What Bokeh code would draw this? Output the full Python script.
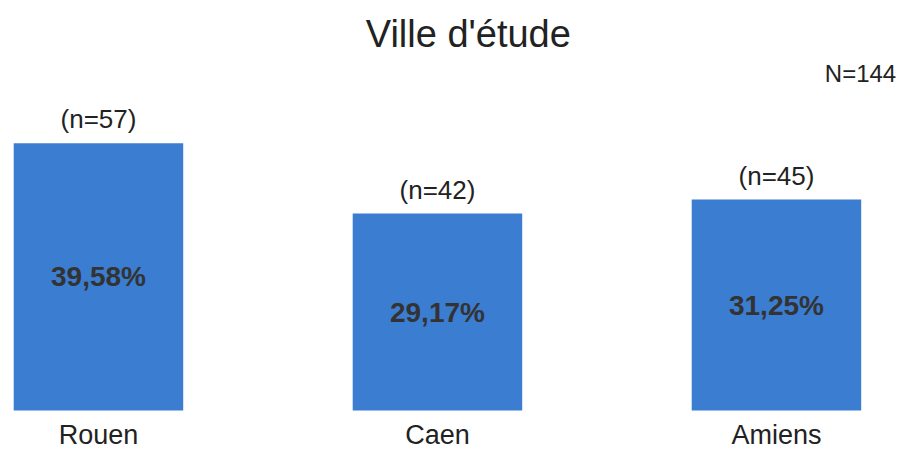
from bokeh.plotting import figure
from bokeh.models import Range1d, ColumnDataSource
from bokeh.core.properties import value
from bokeh.embed import file_html
from bokeh.resources import INLINE

# ---- data ----
chart_title = "Ville d'étude"
total_label = "N=144"
cities = ["Rouen", "Caen", "Amiens"]
percents = [39.58, 29.17, 31.25]
counts = [57, 42, 45]
pct_labels = ["39,58%", "29,17%", "31,25%"]
n_labels = ["(n=57)", "(n=42)", "(n=45)"]

# ---- layout ----
W, H = 899, 450
FONT = "Liberation Sans"
BAR_COLOR = "#3b7dd0"

xs = list(range(len(cities)))
src = ColumnDataSource(dict(
    x=xs,
    top=percents,
    mid=[v / 2 for v in percents],
    city=cities,
    pct=pct_labels,
    n=n_labels,
    base=[-3.556] * len(cities),
))

p = figure(width=W, height=H, output_backend="svg", toolbar_location=None,
           x_range=Range1d(-0.289, 2.363), y_range=Range1d(-5.926, 60.74),
           x_axis_location=None, y_axis_location=None,
           min_border=0, outline_line_color=None)
p.xgrid.visible = False
p.ygrid.visible = False
p.background_fill_color = "white"
p.border_fill_color = "white"

p.vbar(x="x", top="top", bottom=0, width=0.5, source=src,
       fill_color=BAR_COLOR, line_color=None)

p.text(x="x", y="mid", text="pct", source=src, text_align="center",
       text_baseline="middle", text_font=value(FONT), text_font_size="28px",
       text_font_style="bold", text_color="#333333")

p.text(x="x", y="top", text="n", source=src, text_align="center",
       text_baseline="middle", y_offset=-24, text_font=value(FONT),
       text_font_size="26px", text_color="#222222")

p.text(x="x", y="base", text="city", source=src, text_align="center",
       text_baseline="middle", text_font=value(FONT), text_font_size="27px",
       text_color="#222222")

p.text(x=[1.091], y=[55.85], text=[chart_title], text_align="center",
       text_baseline="middle", text_font=value(FONT), text_font_size="38px",
       text_color="#222222")

p.text(x=[2.248], y=[49.93], text=[total_label], text_align="center",
       text_baseline="middle", text_font=value(FONT), text_font_size="24px",
       text_color="#222222")

open("out.html", "w").write(file_html(p, INLINE))
